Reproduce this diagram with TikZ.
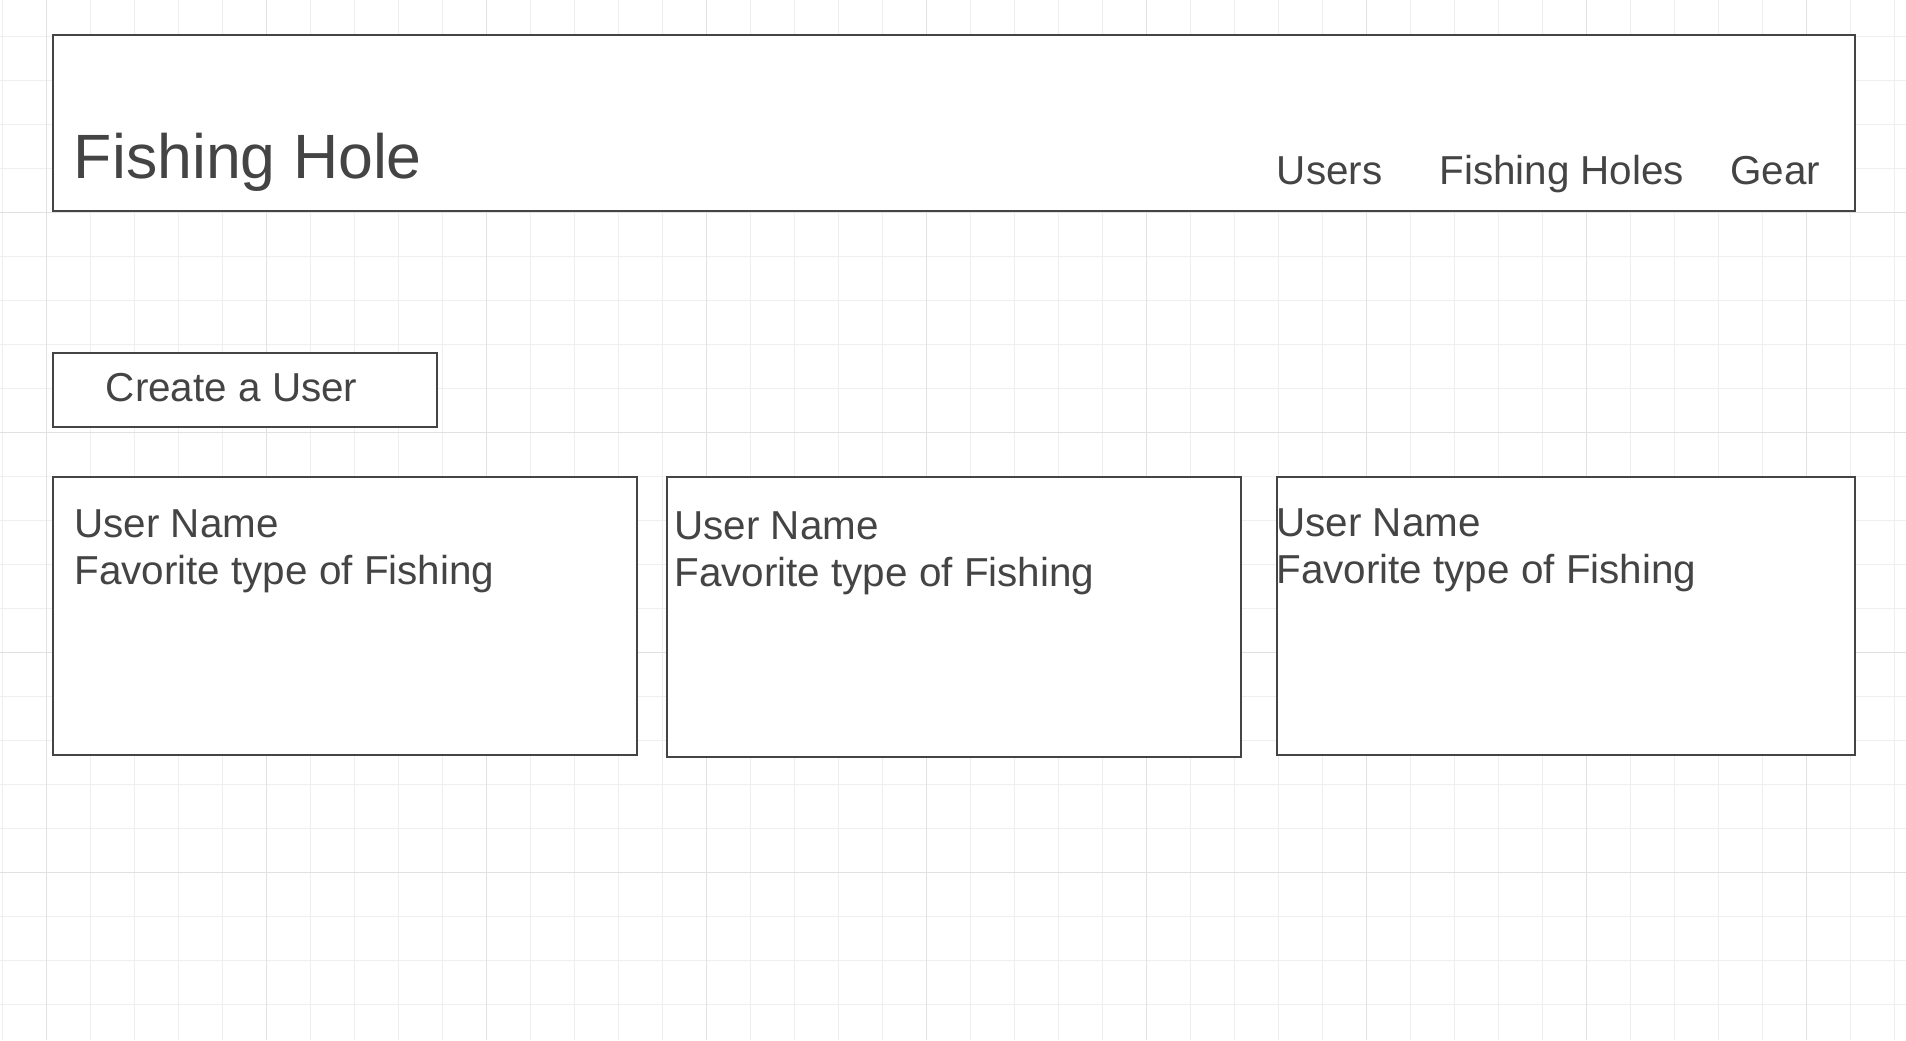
\documentclass[tikz,border=0pt]{standalone}
\usepackage{fontspec}
\setmainfont{Liberation Sans}
\usetikzlibrary{positioning}
\definecolor{ink}{HTML}{444444}
\definecolor{gridminor}{HTML}{EFEFEF}
\definecolor{gridmajor}{HTML}{E1E1E1}

\begin{document}
\begin{tikzpicture}[x=0.5pt,y=-0.5pt,
  panel/.style={rectangle,draw=ink,line width=1pt,fill=white,inner sep=0pt,anchor=north west},
  pagetitle/.style={text=ink,inner sep=0pt,anchor=base west,font=\fontsize{31.3}{36}\selectfont},
  navlink/.style={text=ink,inner sep=0pt,anchor=base west,font=\fontsize{20.2}{23.3}\selectfont},
  cardtext/.style={navlink,align=left}]

  \useasboundingbox (0,0) rectangle (1906,1040);
  \clip (0,0) rectangle (1906,1040);
  \foreach \i in {0,...,43}
    \draw[gridminor,line width=0.5pt] (2.7+44*\i,0) -- (2.7+44*\i,1040);
  \foreach \j in {0,...,24}
    \draw[gridminor,line width=0.5pt] (0,-7.3+44*\j) -- (1906,-7.3+44*\j);
  \foreach \i in {0,...,8}
    \draw[gridmajor,line width=0.75pt] (46.7+220*\i,0) -- (46.7+220*\i,1040);
  \foreach \j in {0,...,4}
    \draw[gridmajor,line width=0.75pt] (0,-7.3+220*\j) -- (1906,-7.3+220*\j);

  \node[panel,minimum width=901.3pt,minimum height=87.6pt] (header) at (51.7,34.3) {};
  \node[pagetitle] (apptitle) at (73.5,178.3) {Fishing Hole};
  \node[navlink] (users) at (1276.5,184) {Users};
  \node[navlink] (holes) at (1439,184) {Fishing Holes};
  \node[navlink] (gear) at (1730,184) {Gear};

  \node[panel,minimum width=192pt,minimum height=37pt] (createbtn) at (52,352) {};
  \node[navlink] (createtxt) at (105.5,401.7) {Create a User};

  \node[panel,minimum width=291.8pt,minimum height=139.2pt] (card1) at (52,475.7) {};
  \node[panel,minimum width=286.8pt,minimum height=140.2pt] (card2) at (666,475.7) {};
  \node[panel,minimum width=289pt,minimum height=139.2pt] (card3) at (1276,475.7) {};

  \node[cardtext] (user1) at (74,584) {User Name\\Favorite type of Fishing};
  \node[cardtext] (user2) at (674,586) {User Name\\Favorite type of Fishing};
  \node[cardtext] (user3) at (1276,583.5) {User Name\\Favorite type of Fishing};

\end{tikzpicture}
\end{document}
